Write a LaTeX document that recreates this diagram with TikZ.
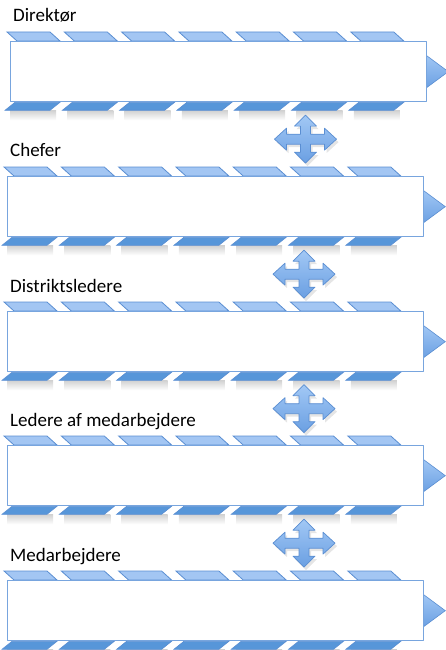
\documentclass[tikz,border=0pt]{standalone}
\usepackage{fontspec}
\setmainfont{Carlito}
\usepackage{tikz}
\usetikzlibrary{positioning,calc,backgrounds}
\definecolor{stripelight}{HTML}{A3C6F3}
\definecolor{stripedark}{HTML}{5796D9}
\definecolor{edgeblue}{HTML}{5A8ED2}
\definecolor{barline}{HTML}{78A5DE}
\definecolor{tiptop}{HTML}{A2C8F5}
\definecolor{tipbot}{HTML}{6A9FE2}
\tikzset{crossarrow/.pic={
  \path[pic actions] (31,0) -- (19,-11) -- (19,-5) -- (5,-5) -- (5,-13) -- (11,-13) -- (0,-24) -- (-11,-13) -- (-5,-13) -- (-5,-5) -- (-19,-5) -- (-19,-11) -- (-31,0)
    -- (-19,11) -- (-19,5) -- (-5,5) -- (-5,13) -- (-11,13) -- (0,24) -- (11,13) -- (5,13) -- (5,5) -- (19,5) -- (19,11) -- cycle;}}

\begin{document}
\begin{tikzpicture}[x=1pt,y=-1pt,line join=round,
  bar/.style={draw=barline,line width=1.3pt,fill=white,minimum width=416pt,minimum height=60pt,inner sep=0pt,anchor=north west},
  toppiece/.style={draw=edgeblue,line width=0.8pt,fill=stripelight},
  botpiece/.style={draw=edgeblue,line width=0.6pt,fill=stripedark},
  tip/.style={draw=edgeblue,line width=0.6pt,top color=tiptop,bottom color=tipbot},
  lbl/.style={anchor=base west,inner sep=0pt,font=\fontsize{19}{22}\selectfont}]
\useasboundingbox (0,0) rectangle (446,650);

\foreach \i/\x/\y/\t in {1/10/41/Direktør,2/7/176/Chefer,3/7/311/Distriktsledere,4/7/445/Ledere af medarbejdere,5/7/580/Medarbejdere}{
  \node[bar] (bar\i) at (\x,\y) {};
  \node[lbl] (lbl\i) at ($(bar\i.north west)+(3,-19)$) {\t};
  \begin{scope}[on background layer]
    \foreach \k in {0,...,6}{
      \path ($(bar\i.north west)+(-3+57.3*\k,0)$) coordinate (s) ($(bar\i.south west)+(-3+57.3*\k,0)$) coordinate (b);
      \shade[top color=black!18,bottom color=white] ($(b)+(3,8)$) rectangle ++(46,10);
      \draw[toppiece] (s) ++(0,-9) -- ++(43,0) -- ++(10,9) -- ++(-43,0) -- cycle;
      \draw[botpiece] (b) ++(8,0) -- ++(45,0) -- ++(-10,8) -- ++(-45,0) -- cycle;
    }
    \draw[tip] ($(bar\i.east)+(-2,-17)$) -- ($(bar\i.east)+(21,0)$) -- ($(bar\i.east)+(-2,17)$) -- cycle;
  \end{scope}
}

\foreach \i [evaluate=\i as \j using int(\i+1)] in {1,...,4}{
  \coordinate (c\i) at ($(bar\i.south west)!0.5!(bar\j.north west)+(297,0)$);
  \pic[fill=black,fill opacity=0.1] at ($(c\i)+(2,3)$) {crossarrow};
  \pic[draw=edgeblue,line width=0.7pt,top color=tiptop,bottom color=tipbot] at (c\i) {crossarrow};
}
\end{tikzpicture}
\end{document}
